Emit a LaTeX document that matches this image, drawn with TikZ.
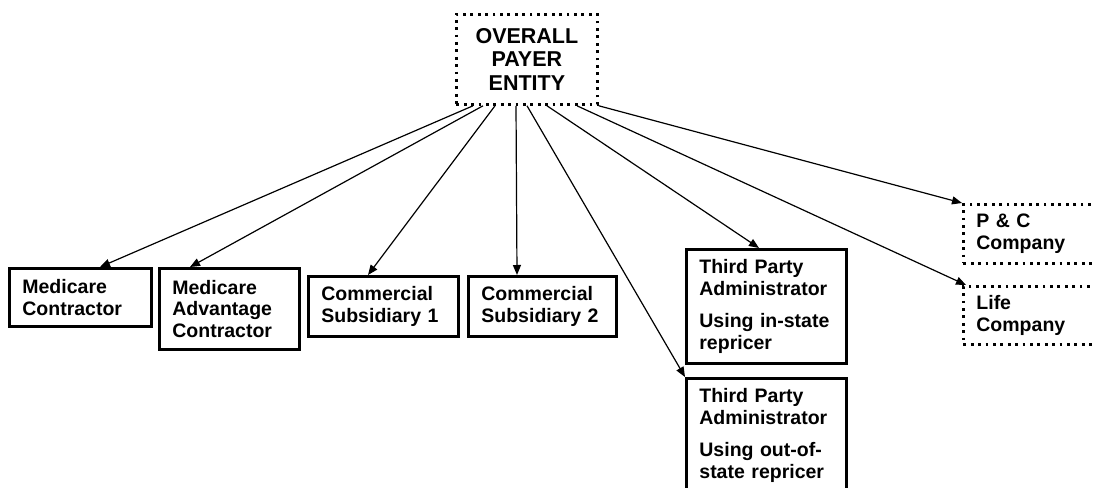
\documentclass[tikz,border=0pt]{standalone}
\usepackage{fontspec}
\setmainfont{Liberation Sans}
\usetikzlibrary{arrows.meta,positioning}

\begin{document}
\begin{tikzpicture}[x=1pt, y=-1pt,
  box/.style={draw, line width=2.8pt, align=left, anchor=north west, inner xsep=13pt, inner ysep=0pt,
    font=\fontsize{19.5}{21.7}\selectfont\bfseries, text width=#1},
  dotbox/.style={box=#1, line width=2.8pt, dash pattern=on 2.8pt off 4.6pt},
  arr/.style={-{Triangle[length=10pt,width=8pt]}, line width=1.2pt}]
\useasboundingbox (0,0) rectangle (1094,487);
% head of the payer
\node[dotbox=115pt, align=center, minimum width=141pt, minimum height=90pt,
  font=\fontsize{21.5}{23.5}\selectfont\bfseries] (payer) at (455,13) {OVERALL\\PAYER\\ENTITY};
% subsidiaries
\node[box=116pt, minimum width=142pt, minimum height=58pt] (mc) at (8,267) {Medicare\\Contractor};
\node[box=114pt, minimum width=140pt, minimum height=81pt] (ma) at (158,267) {Medicare\\Advantage\\Contractor};
\node[box=124pt, minimum width=150pt, minimum height=60pt] (cs1) at (307,275) {Commercial\\Subsidiary 1};
\node[box=122pt, minimum width=148pt, minimum height=60pt] (cs2) at (467,275) {Commercial\\Subsidiary 2};
\node[box=134pt, minimum width=160pt, minimum height=114pt] (tpain) at (685,248) {Third Party\\Administrator\\[11pt]Using in-state\\repricer};
\node[box=134pt, minimum width=160pt, minimum height=114pt] (tpaout) at (685,377) {Third Party\\Administrator\\[11pt]Using out-of-\\state repricer};
\node[dotbox=134pt, minimum width=160pt, minimum height=59pt] (pc) at (962,203) {P \& C\\Company};
\node[dotbox=134pt, minimum width=160pt, minimum height=58pt] (life) at (962,285) {Life\\Company};
% connectors
\draw[arr] ([xshift=18pt]payer.south west) -- ([xshift=92pt]mc.north west);
\draw[arr] ([xshift=28pt]payer.south west) -- ([xshift=32pt]ma.north west);
\draw[arr] ([xshift=40pt]payer.south west) -- ([xshift=61pt]cs1.north west);
\draw[arr] ([xshift=61pt]payer.south west) -- ([xshift=50pt]cs2.north west);
\draw[arr] ([xshift=72pt]payer.south west) -- (tpaout.north west);
\draw[arr] ([xshift=92pt]payer.south west) -- ([xshift=74pt]tpain.north west);
\draw[arr] ([xshift=122pt]payer.south west) -- ([xshift=4pt]life.north west);
\draw[arr] (payer.south east) -- (pc.north west);
\end{tikzpicture}
\end{document}
